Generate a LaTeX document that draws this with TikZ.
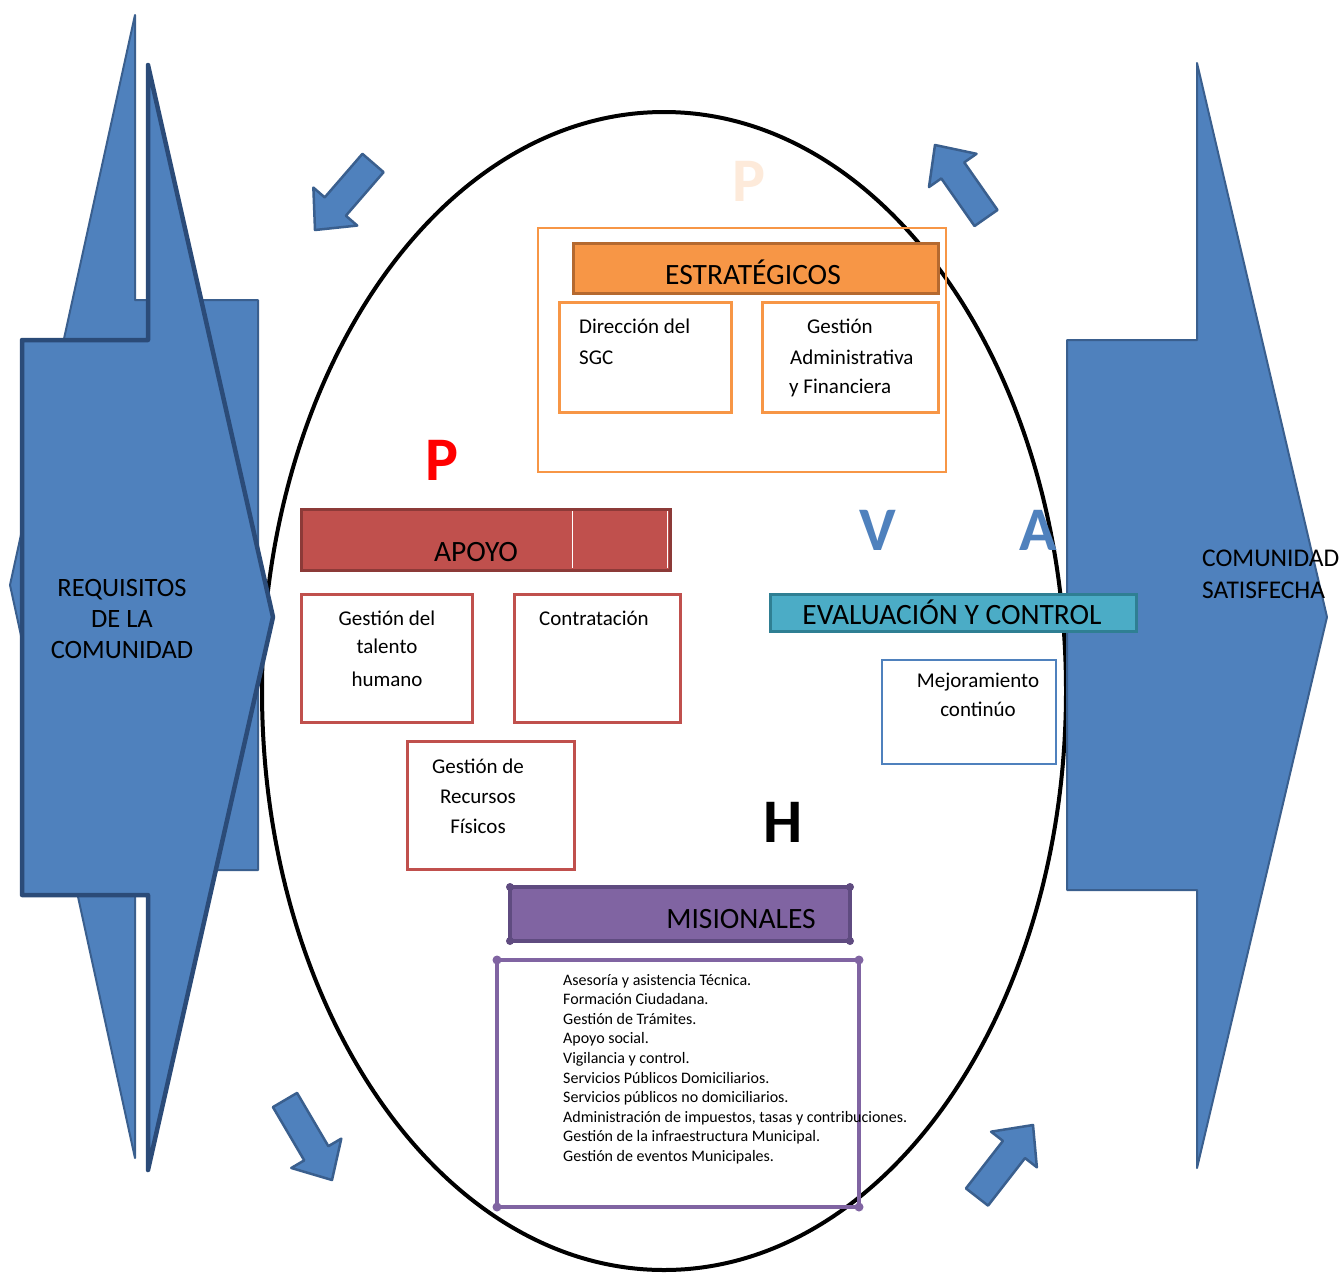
\documentclass[tikz,border=0pt]{standalone}
\usepackage{fontspec}
\setmainfont{Carlito}
\usetikzlibrary{calc}
\definecolor{ofblue}{HTML}{4F81BD}
\definecolor{blueline}{HTML}{3A5F8E}
\definecolor{bluedark}{HTML}{2B4B78}
\definecolor{oforange}{HTML}{F79646}
\definecolor{orangedark}{HTML}{B5692F}
\definecolor{ofred}{HTML}{C0504D}
\definecolor{reddark}{HTML}{8C3A38}
\definecolor{ofteal}{HTML}{4BACC6}
\definecolor{tealdark}{HTML}{2F7F93}
\definecolor{ofpurple}{HTML}{8064A2}
\definecolor{purpledark}{HTML}{5F4B80}
\definecolor{peach}{HTML}{FDEADA}

\newcommand{\blockarr}[2]{%
  \path ($(#2)!31pt!(#1)$) coordinate (hb);
  \draw[smallarrow]
    ($(#1)!14pt!90:(#2)$) -- ($(hb)!14pt!-90:(#1)$) -- ($(hb)!29pt!-90:(#1)$) -- (#2)
    -- ($(hb)!29pt!90:(#1)$) -- ($(hb)!14pt!90:(#1)$) -- ($(#1)!14pt!-90:(#2)$) -- cycle;
}

\begin{document}
\begin{tikzpicture}[x=1pt,y=-1pt,
  smallarrow/.style={fill=ofblue, draw=blueline, line width=2.5pt, line join=round},
  lbl/.style={inner sep=0pt, font=\fontsize{21}{25}\selectfont},
  headtxt/.style={inner sep=0pt, anchor=base, font=\fontsize{29.5}{34}\selectfont},
  sidetxt/.style={inner sep=0pt, anchor=base, font=\fontsize{26.5}{30}\selectfont},
  righttxt/.style={inner sep=0pt, anchor=base west, font=\fontsize{25.5}{30}\selectfont},
  bigletter/.style={inner sep=0pt, anchor=base, font=\fontsize{62}{70}\selectfont\bfseries},
  listline/.style={inner sep=0pt, anchor=base west, font=\fontsize{16}{19}\selectfont},
  cornerdot/.style={fill=ofpurple, draw=none}
]
\useasboundingbox (0,0) rectangle (1341,1272);
\fill[white] (0,0) rectangle (1341,1272);

% the cycle ellipse
\draw[line width=4pt] (664,691) ellipse [x radius=402pt, y radius=579pt];

% input shape: two overlapping pointed blocks
\draw[fill=ofblue, draw=blueline, line width=2pt, line join=round]
  (135,15) -- (135,300) -- (258,300) -- (258,870) -- (135,870) -- (135,1158) -- (10,585) -- cycle;
\draw[fill=ofblue, draw=bluedark, line width=4.5pt, line join=round]
  (148,65) -- (273,617) -- (148,1170) -- (148,895) -- (22,895) -- (22,340) -- (148,340) -- cycle;

% output shape
\draw[fill=ofblue, draw=blueline, line width=2pt, line join=round]
  (1197,63) -- (1327,617) -- (1197,1168) -- (1197,890) -- (1067,890) -- (1067,340) -- (1197,340) -- cycle;

\node[sidetxt] (req1) at (122,596) {REQUISITOS};
\node[sidetxt] (req2) at (122,627) {DE LA};
\node[sidetxt] (req3) at (122,658) {COMUNIDAD};
\node[righttxt] (sat1) at (1202,566) {COMUNIDAD};
\node[righttxt] (sat2) at (1202,598) {SATISFECHA};

% small block arrows around the cycle
\coordinate (a1s) at (373,163); \coordinate (a1t) at (315,230);
\coordinate (a2s) at (986,218); \coordinate (a2t) at (935,145);
\coordinate (a3s) at (285,1100); \coordinate (a3t) at (332,1180);
\coordinate (a4s) at (977,1197); \coordinate (a4t) at (1033,1125);
\blockarr{a1s}{a1t}
\blockarr{a2s}{a2t}
\blockarr{a3s}{a3t}
\blockarr{a4s}{a4t}

% cycle letters
\node[bigletter, text=peach] (pA) at (749,201) {P};
\node[bigletter, text=red] (pB) at (442,480) {P};
\node[bigletter, text=ofblue] (vL) at (878,550) {V};
\node[bigletter, text=ofblue] (aL) at (1038,550) {A};
\node[bigletter, text=black] (hL) at (783,842) {H};

% strategic processes
\draw[oforange, line width=2pt] (538,228) rectangle (946,472);
\draw[fill=oforange, draw=orangedark, line width=3pt] (573,243) rectangle (938,293);
\node[headtxt] (estr) at (753,284) {ESTRATÉGICOS};
\draw[oforange, line width=3pt] (559,302) rectangle (731,412);
\draw[oforange, line width=3pt] (762,302) rectangle (938,412);
\node[lbl, anchor=base west] (dir1) at (579,333) {Dirección del};
\node[lbl, anchor=base west] (dir2) at (579,364) {SGC};
\node[lbl, anchor=base west] (gaf1) at (807,333) {Gestión};
\node[lbl, anchor=base west] (gaf2) at (790,364) {Administrativa};
\node[lbl, anchor=base west] (gaf3) at (789,393) {y Financiera};

% support processes
\draw[fill=ofred, draw=reddark, line width=3pt] (301,509) rectangle (670,570);
\draw[white, line width=1pt] (572,511) -- (572,568) (667,511) -- (667,568);
\node[headtxt] (apoyo) at (476,561) {APOYO};
\draw[ofred, line width=3pt] (301,594) rectangle (472,722);
\draw[ofred, line width=3pt] (514,594) rectangle (680,722);
\draw[ofred, line width=3pt] (407,741) rectangle (574,869);
\node[lbl, anchor=base] (gt1) at (387,625) {Gestión del};
\node[lbl, anchor=base] (gt2) at (387,653) {talento};
\node[lbl, anchor=base] (gt3) at (387,686) {humano};
\node[lbl, anchor=base] (contr) at (594,625) {Contratación};
\node[lbl, anchor=base] (gr1) at (478,773) {Gestión de};
\node[lbl, anchor=base] (gr2) at (478,803) {Recursos};
\node[lbl, anchor=base] (gr3) at (478,833) {Físicos};

% evaluation and control
\draw[fill=ofteal, draw=tealdark, line width=3pt] (770,594) rectangle (1136,631);
\node[headtxt] (eval) at (952,624) {EVALUACIÓN Y CONTROL};
\draw[ofblue, line width=2.5pt] (882,660) rectangle (1056,764);
\node[lbl, anchor=base] (mej1) at (978,687) {Mejoramiento};
\node[lbl, anchor=base] (mej2) at (978,716) {continúo};

% mission processes
\draw[fill=ofpurple, draw=purpledark, line width=4pt] (510,887) rectangle (850,941);
\foreach \p in {(510,887),(850,887),(510,941),(850,941)} \fill[purpledark] \p circle (4pt);
\node[headtxt] (mis) at (741,928) {MISIONALES};
\draw[ofpurple, line width=4pt] (497,960) rectangle (859,1207);
\foreach \p in {(497,960),(859,960),(497,1207),(859,1207)} \fill[cornerdot] \p circle (4.5pt);
\node[listline] (m1) at (563,985.0) {Asesoría y asistencia Técnica.};
\node[listline] (m2) at (563,1004.6) {Formación Ciudadana.};
\node[listline] (m3) at (563,1024.2) {Gestión de Trámites.};
\node[listline] (m4) at (563,1043.8) {Apoyo social.};
\node[listline] (m5) at (563,1063.4) {Vigilancia y control.};
\node[listline] (m6) at (563,1083.0) {Servicios Públicos Domiciliarios.};
\node[listline] (m7) at (563,1102.6) {Servicios públicos no domiciliarios.};
\node[listline] (m8) at (563,1122.2) {Administración de impuestos, tasas y contribuciones.};
\node[listline] (m9) at (563,1141.8) {Gestión de la infraestructura Municipal.};
\node[listline] (m10) at (563,1161.4) {Gestión de eventos Municipales.};
\end{tikzpicture}
\end{document}
